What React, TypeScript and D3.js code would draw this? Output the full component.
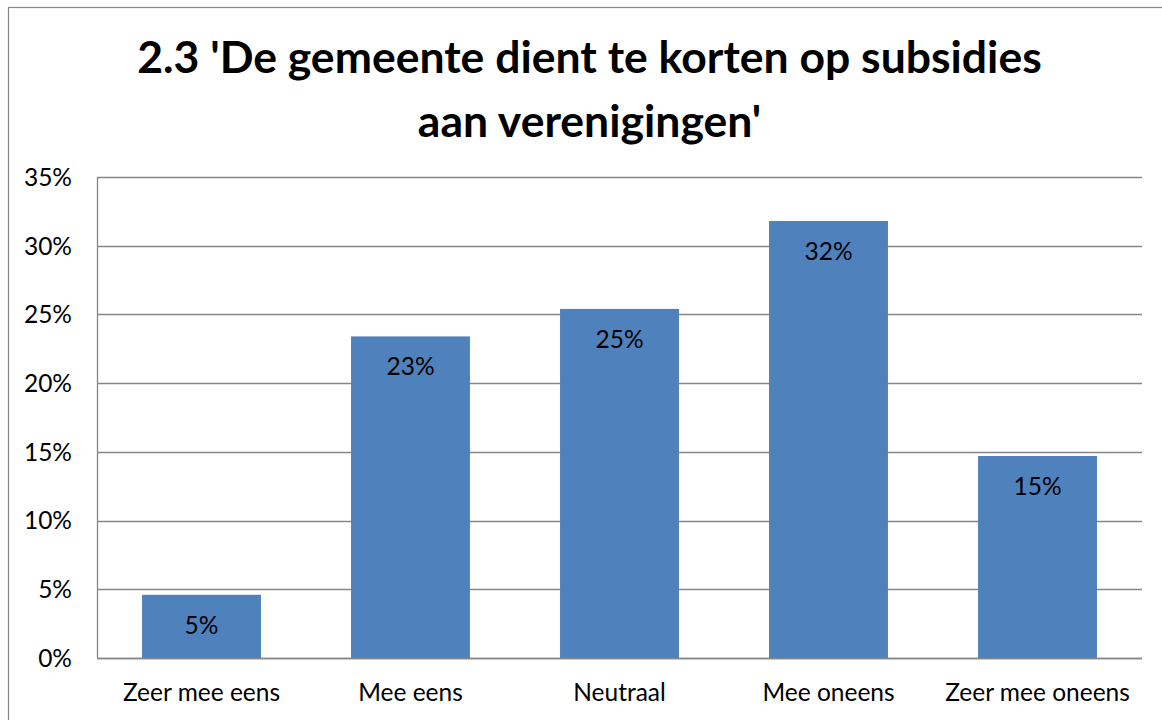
import React from 'react';
import * as d3 from 'd3';

const categories = ['Zeer mee eens', 'Mee eens', 'Neutraal', 'Mee oneens', 'Zeer mee oneens'];
const values = [0.046, 0.234, 0.254, 0.318, 0.147];
const yTicks = [0, 0.05, 0.1, 0.15, 0.2, 0.25, 0.3, 0.35];
const titleLines = ["2.3 'De gemeente dient te korten op subsidies", "aan verenigingen'"];

const W = 1162;
const H = 720;
const plot = { left: 97, right: 1142, top: 177, bottom: 658 };
const barColor = '#4F81BD';
const lineColor = '#868686';
const font = 'Lato, "Open Sans", sans-serif';
const labelSize = 24.5;

export default function App() {
  const x = d3.scaleBand<string>()
    .domain(categories)
    .range([plot.left, plot.right])
    .paddingInner(0.431)
    .paddingOuter(0.2155);

  const y = d3.scaleLinear().domain([0, 0.35]).range([plot.bottom, plot.top]);
  const pct = d3.format('.0%');
  const crisp = (v: number) => Math.round(v) + 0.5;

  return (
    <svg width={W} height={H} style={{ position: 'absolute', left: 0, top: 0, fontFamily: font }}>
      <rect x={0} y={0} width={W} height={H} fill="#fff" />
      {/* outer chart frame, runs off the right and bottom edge */}
      <rect x={8.5} y={7.5} width={1300} height={900} fill="none" stroke={lineColor} strokeWidth={1.2} />

      <g textAnchor="middle" fontWeight={700} fontSize={44.5} fill="#000">
        <text x={589.5} y={73}>{titleLines[0]}</text>
        <text x={589.5} y={137}>{titleLines[1]}</text>
      </g>

      {/* gridlines */}
      <g>
        {yTicks.map(t => (
          <line key={t} x1={plot.left} x2={plot.right} y1={crisp(y(t))} y2={crisp(y(t))}
            stroke={lineColor} strokeWidth={1.3} />
        ))}
        <line x1={crisp(plot.left)} x2={crisp(plot.left)} y1={plot.top} y2={plot.bottom}
          stroke={lineColor} strokeWidth={1.3} />
      </g>

      {/* y tick labels */}
      <g textAnchor="end" fontSize={labelSize} fill="#000">
        {yTicks.map(t => (
          <text key={t} x={72} y={y(t)} dy="0.36em">{pct(t)}</text>
        ))}
      </g>

      {/* bars */}
      <g>
        {categories.map((c, i) => (
          <rect key={c} x={x(c)} y={y(values[i])} width={x.bandwidth()}
            height={y(0) - y(values[i])} fill={barColor} />
        ))}
      </g>

      {/* redraw the baseline over the bars */}
      <line x1={plot.left} x2={plot.right} y1={crisp(y(0))} y2={crisp(y(0))} stroke={lineColor} strokeWidth={1.3} />

      {/* data labels */}
      <g textAnchor="middle" fontSize={labelSize} fill="#000">
        {categories.map((c, i) => (
          <text key={c} x={(x(c) as number) + x.bandwidth() / 2} y={y(values[i]) + 30} dy="0.36em">
            {pct(Math.round(values[i] * 100) / 100)}
          </text>
        ))}
      </g>

      {/* category labels */}
      <g textAnchor="middle" fontSize={labelSize} fill="#000">
        {categories.map(c => (
          <text key={c} x={(x(c) as number) + x.bandwidth() / 2} y={701}>{c}</text>
        ))}
      </g>
    </svg>
  );
}
